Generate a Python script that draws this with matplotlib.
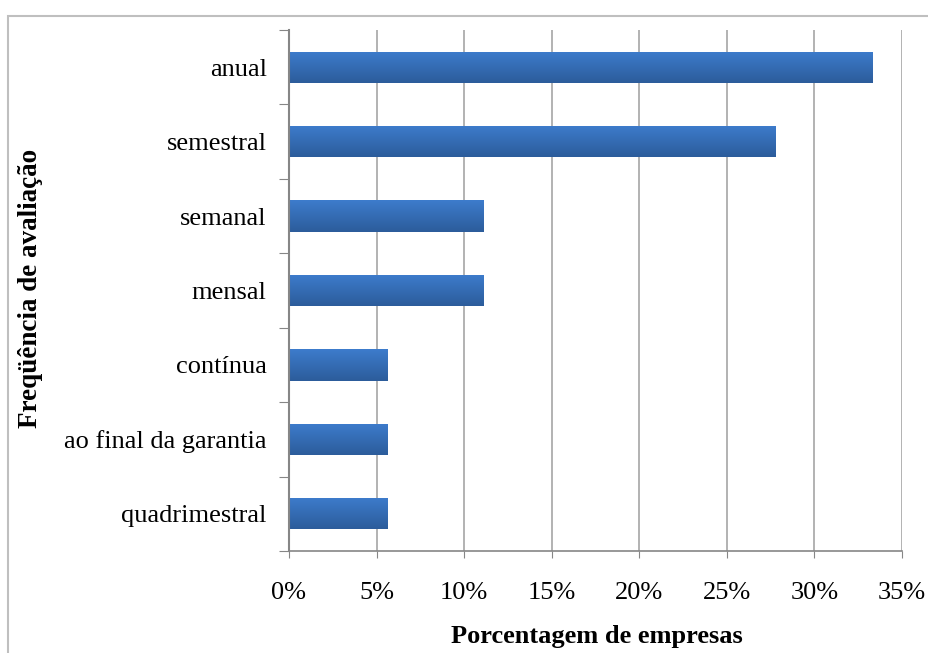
import numpy as np
import matplotlib
matplotlib.use('Agg')
import matplotlib.pyplot as plt
from matplotlib.patches import Rectangle
from matplotlib.colors import LinearSegmentedColormap
from matplotlib.ticker import FuncFormatter

# data, top to bottom as in the chart
categories = ['anual', 'semestral', 'semanal', 'mensal', 'contínua',
              'ao final da garantia', 'quadrimestral']
percentages = [33.3, 27.8, 11.1, 11.1, 5.6, 5.6, 5.6]
x_ticks = [0, 5, 10, 15, 20, 25, 30, 35]

plt.rcParams['font.family'] = ['Liberation Serif', 'DejaVu Serif']

fig = plt.figure(figsize=(9.29, 6.53), dpi=100)
ax = fig.add_axes([289 / 929, 1 - 551 / 653, (902 - 289) / 929, (551 - 30) / 653])

# outer chart frame (light gray, cut off at right/bottom)
fig.patches.append(Rectangle((8 / 929, -0.1), 1.0, 1 - 16 / 653 + 0.1,
                             transform=fig.transFigure, fill=False,
                             edgecolor='#bfbfbf', linewidth=1.5))

y_pos = np.arange(len(categories))
bar_h = 0.42
bars = ax.barh(y_pos, percentages, height=bar_h, color='#3470b8', zorder=2)

# vertical gradient inside each bar
grad_cmap = LinearSegmentedColormap.from_list('bar', ['#3d7ccc', '#2c5c9b'])
grad = np.linspace(0, 1, 64).reshape(-1, 1)
for y, v, b in zip(y_pos, percentages, bars):
    im = ax.imshow(grad, cmap=grad_cmap, aspect='auto', origin='upper',
                   extent=[0, v, y + bar_h / 2, y - bar_h / 2], zorder=3)
    im.set_clip_path(b)

ax.set_xlim(0, 35)
ax.set_ylim(len(categories) - 0.5, -0.5)

ax.set_xticks(x_ticks)
ax.xaxis.set_major_formatter(FuncFormatter(lambda v, p: '%d%%' % v))
ax.tick_params(axis='x', length=5, color='#868686', labelsize=19, pad=17)

ax.set_yticks(np.arange(len(categories) + 1) - 0.5)
ax.set_yticklabels([])
ax.set_yticks(y_pos, minor=True)
ax.set_yticklabels(categories, minor=True)
ax.tick_params(axis='y', which='major', length=7, color='#868686')
ax.tick_params(axis='y', which='minor', length=0, labelsize=19, pad=16)

ax.grid(axis='x', color='#a6a6a6', linewidth=1.2, zorder=0)
ax.set_axisbelow(True)
for s in ['top', 'right']:
    ax.spines[s].set_visible(False)
ax.spines['left'].set_color('#868686')
ax.spines['left'].set_linewidth(1.5)
ax.spines['left'].set_zorder(4)
ax.spines['bottom'].set_color('#868686')
ax.spines['bottom'].set_linewidth(1.2)

fig.text((451 + 742) / 2 / 929, 1 - 636 / 653, 'Porcentagem de empresas',
         ha='center', va='center', fontsize=19, fontweight='bold')
fig.text(31 / 929, 1 - 288 / 653, 'Freqüência de avaliação',
         ha='center', va='center', rotation=90, fontsize=19.5, fontweight='bold')

fig.savefig('out.png', dpi=100)
